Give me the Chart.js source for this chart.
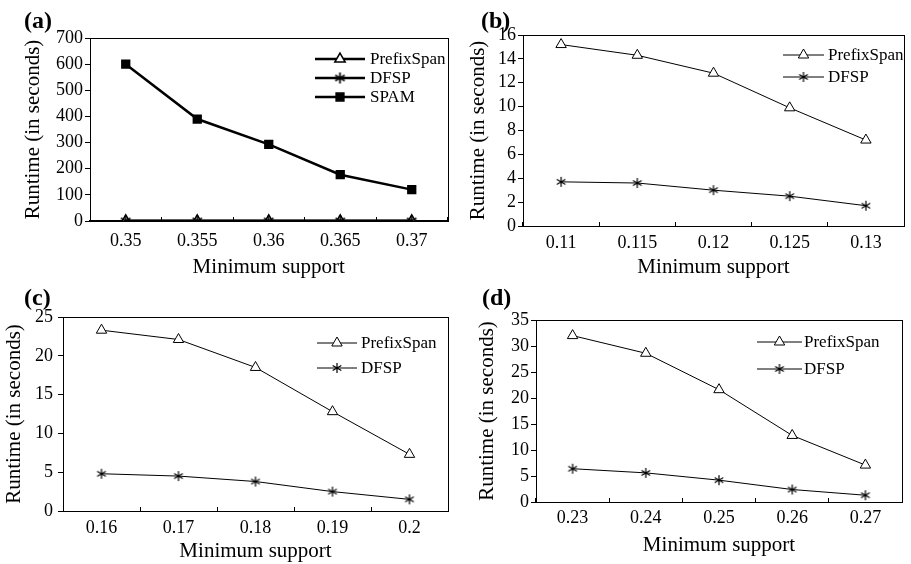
<!DOCTYPE html>
<html>
<head>
<meta charset="utf-8">
<script src="https://cdn.jsdelivr.net/npm/chart.js@4/dist/chart.umd.min.js"></script>
<style>
  body { margin: 0; background: #fff; }
  #wrap { position: relative; width: 911px; height: 564px; overflow: hidden; }
  canvas { position: absolute; }
  .tag { position: absolute; font: bold 24px "Liberation Serif", serif; line-height: 24px; color: #000; }
</style>
</head>
<body>
<div id="wrap">
  <canvas id="chartA" width="455" height="282" style="left:0;top:0"></canvas>
  <canvas id="chartB" width="456" height="282" style="left:455px;top:0"></canvas>
  <canvas id="chartC" width="455" height="282" style="left:0;top:282px"></canvas>
  <canvas id="chartD" width="456" height="282" style="left:455px;top:282px"></canvas>
  <div class="tag" style="left:24px;top:8px">(a)</div>
  <div class="tag" style="left:481px;top:8px">(b)</div>
  <div class="tag" style="left:24px;top:285px">(c)</div>
  <div class="tag" style="left:482px;top:285px">(d)</div>
</div>
<script>
// minimum support values on each x axis
const supportA = ['0.35', '0.355', '0.36', '0.365', '0.37'];
const supportB = ['0.11', '0.115', '0.12', '0.125', '0.13'];
const supportC = ['0.16', '0.17', '0.18', '0.19', '0.2'];
const supportD = ['0.23', '0.24', '0.25', '0.26', '0.27'];

// runtimes in seconds
const prefixA = [0.5, 0.5, 0.5, 0.5, 0.5];
const dfspA = [0.3, 0.3, 0.3, 0.3, 0.3];
const spamA = [600, 390, 293, 177, 120];

const prefixB = [15.2, 14.3, 12.8, 9.9, 7.2];
const dfspB = [3.7, 3.6, 3.0, 2.5, 1.7];

const prefixC = [23.3, 22.1, 18.5, 12.8, 7.3];
const dfspC = [4.8, 4.5, 3.8, 2.5, 1.5];

const prefixD = [32.0, 28.6, 21.6, 12.8, 7.1];
const dfspD = [6.4, 5.6, 4.2, 2.4, 1.3];

const serif = '"Liberation Serif", "Times New Roman", serif';

// six armed asterisk used for DFSP
function asterisk(size, lw) {
	const c = document.createElement('canvas');
	c.width = size; c.height = size;
	const g = c.getContext('2d');
	const m = size / 2, r = size / 2 - 1;
	g.strokeStyle = '#000';
	g.lineWidth = lw;
	g.beginPath();
	for (let k = 0; k < 3; k++) {
		const a = Math.PI / 2 + k * Math.PI / 3;
		g.moveTo(m + r * Math.cos(a), m + r * Math.sin(a));
		g.lineTo(m - r * Math.cos(a), m - r * Math.sin(a));
	}
	g.stroke();
	return c;
}

// box round the plot area
const boxPlugin = {
	id: 'box',
	afterDatasetsDraw(chart) {
		const a = chart.chartArea, ctx = chart.ctx;
		ctx.save();
		ctx.strokeStyle = '#000';
		ctx.lineWidth = 1;
		ctx.strokeRect(Math.round(a.left) + 0.5, Math.round(a.top) + 0.5, Math.round(a.right - a.left), Math.round(a.bottom - a.top));
		ctx.restore();
	}
};

// legend drawn inside the plot
const keyPlugin = {
	id: 'key',
	afterDraw(chart, args, opts) {
		const ctx = chart.ctx;
		ctx.save();
		chart.data.datasets.forEach(function(ds, i) {
			const y = opts.rows[i];
			ctx.strokeStyle = '#000';
			ctx.lineWidth = opts.lw;
			ctx.beginPath();
			ctx.moveTo(opts.x1, y);
			ctx.lineTo(opts.x2, y);
			ctx.stroke();
			ctx.fillStyle = ds.pointBackgroundColor;
			ctx.strokeStyle = '#000';
			ctx.lineWidth = ds.pointBorderWidth;
			Chart.helpers.drawPoint(ctx, {pointStyle: ds.pointStyle, radius: ds.pointRadius, rotation: 0, borderWidth: ds.pointBorderWidth}, (opts.x1 + opts.x2) / 2, y);
			ctx.fillStyle = '#000';
			ctx.font = '17px ' + serif;
			ctx.textBaseline = 'middle';
			ctx.fillText(ds.label, opts.tx, y + 1);
		});
		ctx.restore();
	}
};

function series(label, data, style, lw) {
	const o = {
		label: label,
		data: data,
		borderColor: '#000',
		borderWidth: lw,
		pointBorderColor: '#000',
		pointBorderWidth: lw > 2 ? 1.5 : 1,
		pointRadius: 6,
		pointStyle: style,
		pointBackgroundColor: '#fff',
		order: 1
	};
	if (style === 'rect') { o.pointBackgroundColor = '#000'; o.pointRadius = 5.5; o.order = 2; }
	if (typeof style === 'object') { o.pointRadius = 6; o.order = 0; }
	return o;
}

function buildChart(id, labels, sets, yMax, yStep, L) {
	return new Chart(document.getElementById(id), {
		type: 'line',
		data: { labels: labels, datasets: sets },
		plugins: [boxPlugin, keyPlugin],
		options: {
			responsive: false,
			animation: false,
			layout: { padding: { top: L.top, right: L.right, left: 0, bottom: 0 } },
			plugins: {
				legend: { display: false },
				tooltip: { enabled: false },
				key: L.key
			},
			scales: {
				x: {
					offset: true,
					grid: { offset: true, drawOnChartArea: false, tickLength: -4, color: '#000' },
					border: { color: '#000', width: L.lw > 2 ? 1.5 : 1 },
					ticks: { color: '#000', font: { family: serif, size: 18 }, padding: L.xTickPad, maxRotation: 0, autoSkip: false },
					title: { display: true, text: 'Minimum support', color: '#000', font: { family: serif, size: 21 }, padding: { top: 0, bottom: L.xTitlePad } },
					afterFit: function(s) { s.height = L.xh; }
				},
				y: {
					min: 0,
					max: yMax,
					grid: { drawOnChartArea: false, tickLength: 5, color: '#000' },
					border: { color: '#000' },
					ticks: { stepSize: yStep, autoSkip: false, color: '#000', font: { family: serif, size: 18 }, padding: L.yTickPad },
					title: { display: true, text: 'Runtime (in seconds)', color: '#000', font: { family: serif, size: 21 }, padding: { top: L.yTitlePad, bottom: 0 } },
					afterFit: function(s) { s.width = L.yw; }
				}
			}
		}
	});
}

const starA = asterisk(13, 1.7);
const starN = asterisk(12, 1.2);

buildChart('chartA', supportA, [
	series('PrefixSpan', prefixA, 'triangle', 2.5),
	series('DFSP', dfspA, starA, 2.5),
	series('SPAM', spamA, 'rect', 2.5)
], 700, 100, {
	top: 38, right: 6, xh: 61, yw: 90, lw: 2.5,
	xTickPad: 13, xTitlePad: 2, yTickPad: 2, yTitlePad: 21,
	key: { x1: 315, x2: 365, tx: 370, rows: [59, 78, 97], lw: 2.5 }
});

buildChart('chartB', supportB, [
	series('PrefixSpan', prefixB, 'triangle', 1),
	series('DFSP', dfspB, starN, 1)
], 16, 2, {
	top: 35, right: 2, xh: 56, yw: 68, lw: 1,
	xTickPad: 10, xTitlePad: 2, yTickPad: 2, yTitlePad: 11,
	key: { x1: 328, x2: 369, tx: 373, rows: [55, 77], lw: 1 }
});

buildChart('chartC', supportC, [
	series('PrefixSpan', prefixC, 'triangle', 1),
	series('DFSP', dfspC, starN, 1)
], 25, 5, {
	top: 35, right: 3, xh: 53, yw: 63, lw: 1,
	xTickPad: 10, xTitlePad: 0, yTickPad: 5, yTitlePad: 2,
	key: { x1: 317, x2: 357, tx: 361, rows: [61, 86], lw: 1 }
});

buildChart('chartD', supportD, [
	series('PrefixSpan', prefixD, 'triangle', 1),
	series('DFSP', dfspD, starN, 1)
], 35, 5, {
	top: 38, right: 9, xh: 62, yw: 81, lw: 1,
	xTickPad: 9, xTitlePad: 6, yTickPad: 2, yTitlePad: 20,
	key: { x1: 302, x2: 347, tx: 349, rows: [60, 87], lw: 1 }
});
</script>
</body>
</html>
